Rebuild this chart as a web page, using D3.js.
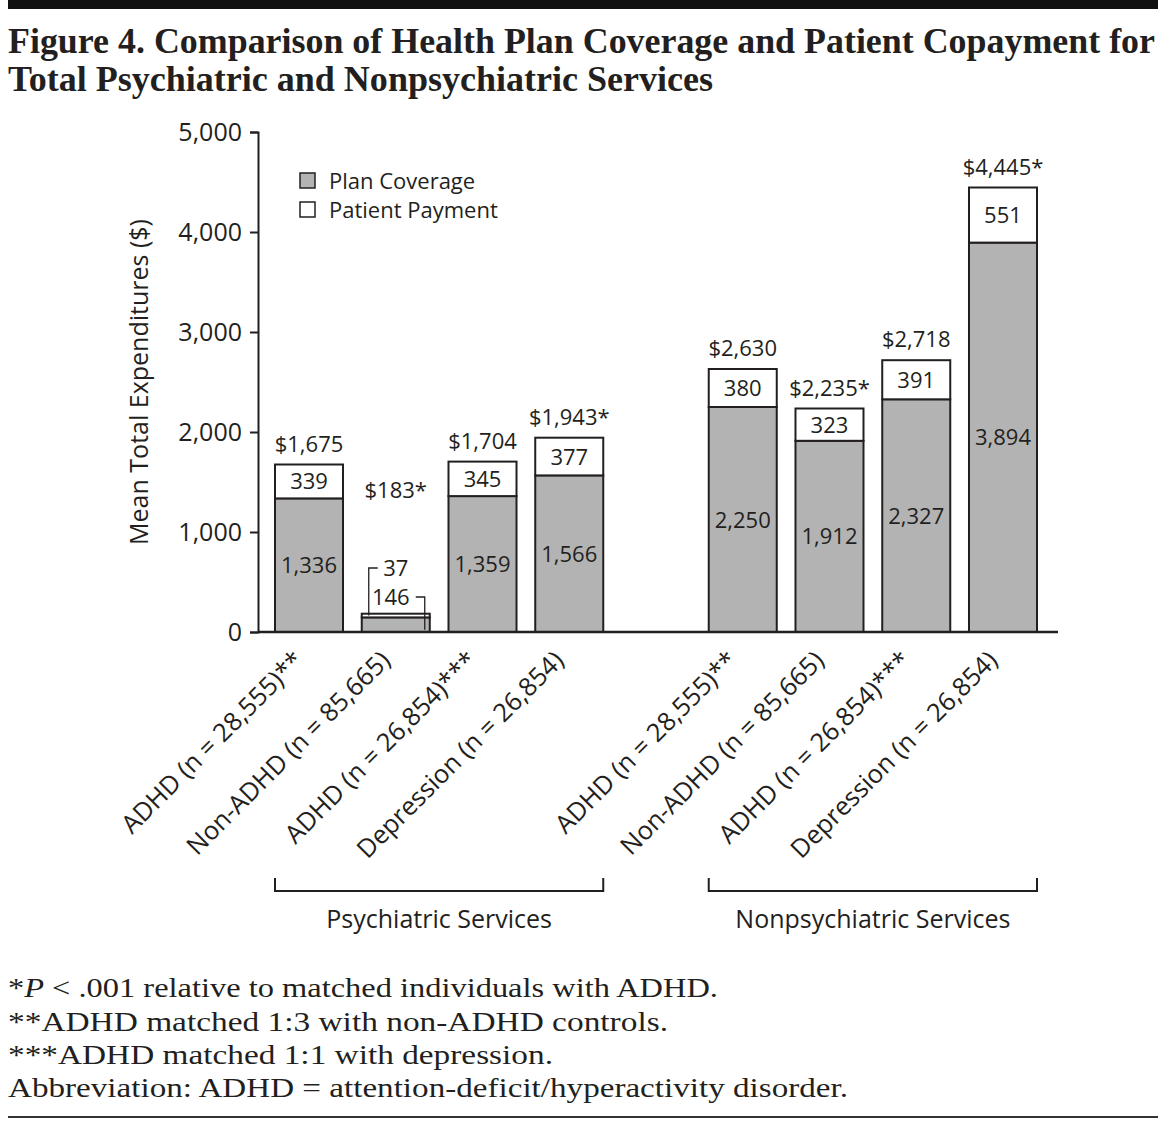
<!DOCTYPE html>
<html>
<head>
<meta charset="utf-8">
<script src="https://cdn.jsdelivr.net/npm/d3@7"></script>
<style>
  html, body { margin: 0; padding: 0; background: #fff; }
  svg { display: block; }
</style>
</head>
<body>
<svg id="chart" width="1169" height="1123"></svg>
<script>
// ---------- DATA ----------
const groups = ["Psychiatric Services", "Nonpsychiatric Services"];
const categories = [
  "ADHD (n = 28,555)**", "Non-ADHD (n = 85,665)", "ADHD (n = 26,854)***", "Depression (n = 26,854)",
  "ADHD (n = 28,555)**", "Non-ADHD (n = 85,665)", "ADHD (n = 26,854)***", "Depression (n = 26,854)"
];
const barGroup = [0, 0, 0, 0, 1, 1, 1, 1];
const planCoverage = [1336, 146, 1359, 1566, 2250, 1912, 2327, 3894];
const patientPayment = [339, 37, 345, 377, 380, 323, 391, 551];
const totalLabels = ["$1,675", "$183*", "$1,704", "$1,943*", "$2,630", "$2,235*", "$2,718", "$4,445*"];
const yTicks = [0, 1000, 2000, 3000, 4000, 5000];
const seriesNames = ["Plan Coverage", "Patient Payment"];
const titleLines = [
  "Figure 4. Comparison of Health Plan Coverage and Patient Copayment for",
  "Total Psychiatric and Nonpsychiatric Services"
];
const yAxisTitle = "Mean Total Expenditures ($)";

// ---------- SETUP ----------
const svg = d3.select("#chart");
const ink = "#231f20";
const gray = "#b3b3b3";
const sans = "'Open Sans', 'Noto Sans', sans-serif";
const serif = "'Liberation Serif', 'Times New Roman', Times, 'Noto Serif', serif";

const slotKeys = ["b0", "b1", "b2", "b3", "gap", "b4", "b5", "b6", "b7"];
const barKey = i => "b" + i;

const x = d3.scaleBand().domain(slotKeys).range([275, 1037]).paddingInner(0.216).paddingOuter(0);
const y = d3.scaleLinear().domain([0, 5000]).range([632, 132]);
const bw = x.bandwidth();

// ---------- TITLE ----------
svg.append("rect").attr("x", 8).attr("y", 0).attr("width", 1150).attr("height", 9).attr("fill", "#111");
const titleWidths = [1147, 705];
titleLines.forEach((t, i) => {
  svg.append("text")
    .attr("x", 8).attr("y", 53 + i * 38)
    .attr("font-family", serif).attr("font-weight", "bold").attr("font-size", 36)
    .attr("fill", ink)
    .attr("textLength", titleWidths[i]).attr("lengthAdjust", "spacingAndGlyphs")
    .text(t);
});

// ---------- AXES ----------
const yAxis = d3.axisLeft(y).tickValues(yTicks).tickSize(8).tickPadding(8).tickFormat(d3.format(","));
const gy = svg.append("g").attr("transform", "translate(258,0)").call(yAxis);
gy.select(".domain").attr("stroke", ink).attr("stroke-width", 2);
gy.selectAll(".tick line").attr("stroke", ink).attr("stroke-width", 2);
gy.selectAll(".tick text").attr("font-family", sans).attr("font-size", 25).attr("fill", ink);

svg.append("text")
  .attr("transform", "translate(148,382) rotate(-90)")
  .attr("text-anchor", "middle")
  .attr("font-family", sans).attr("font-size", 25).attr("fill", ink)
  .text(yAxisTitle);

// ---------- BARS ----------
const bars = svg.append("g");
categories.forEach((c, i) => {
  const x0 = x(barKey(i));
  const p = planCoverage[i], q = patientPayment[i];
  bars.append("rect")
    .attr("x", x0).attr("y", y(p)).attr("width", bw).attr("height", y(0) - y(p))
    .attr("fill", gray).attr("stroke", ink).attr("stroke-width", 2);
  bars.append("rect")
    .attr("x", x0).attr("y", y(p + q)).attr("width", bw).attr("height", y(p) - y(p + q))
    .attr("fill", "#fff").attr("stroke", ink).attr("stroke-width", 2);
});

svg.append("line").attr("x1", 258).attr("x2", 1058).attr("y1", y(0)).attr("y2", y(0))
  .attr("stroke", ink).attr("stroke-width", 2.5);

// ---------- VALUE LABELS ----------
const lab = svg.append("g").attr("font-family", sans).attr("font-size", 22).attr("fill", ink)
  .attr("text-anchor", "middle");
categories.forEach((c, i) => {
  const cx = x(barKey(i)) + bw / 2;
  const p = planCoverage[i], q = patientPayment[i];
  if (i === 1) {
    const ySeg37 = y(p + q / 2);
    const ySeg146 = y(p / 2);
    lab.append("text").attr("x", cx + 0).attr("y", 576).text(d3.format(",")(q));
    lab.append("text").attr("x", cx - 5).attr("y", 605).text(d3.format(",")(p));
    svg.append("path")
      .attr("d", `M${cx - 18},568 H${cx - 27} V${ySeg37}`)
      .attr("fill", "none").attr("stroke", ink).attr("stroke-width", 1.3);
    svg.append("path")
      .attr("d", `M${cx + 20},597 H${cx + 29} V${ySeg146 + 5}`)
      .attr("fill", "none").attr("stroke", ink).attr("stroke-width", 1.3);
    lab.append("text").attr("x", cx).attr("y", 498).text(totalLabels[i]);
  } else {
    lab.append("text").attr("x", cx).attr("y", (y(p) + y(0)) / 2 + 8).text(d3.format(",")(p));
    lab.append("text").attr("x", cx).attr("y", (y(p + q) + y(p)) / 2 + 8).text(d3.format(",")(q));
    lab.append("text").attr("x", cx).attr("y", y(p + q) - 13).text(totalLabels[i]);
  }
});

// ---------- CATEGORY LABELS ----------
categories.forEach((c, i) => {
  const cx = x(barKey(i)) + bw / 2;
  svg.append("text")
    .attr("transform", `translate(${cx - 4},${662}) rotate(-45)`)
    .attr("text-anchor", "end")
    .attr("font-family", sans).attr("font-size", 25.5).attr("fill", ink)
    .text(c);
});

// ---------- GROUP BRACKETS ----------
groups.forEach((g, gi) => {
  const idx = barGroup.map((v, i) => v === gi ? i : -1).filter(i => i >= 0);
  const xl = x(barKey(idx[0]));
  const xr = x(barKey(idx[idx.length - 1])) + bw;
  svg.append("path")
    .attr("d", `M${xl},878 V891 H${xr} V878`)
    .attr("fill", "none").attr("stroke", ink).attr("stroke-width", 2);
  svg.append("text")
    .attr("x", (xl + xr) / 2).attr("y", 928)
    .attr("text-anchor", "middle")
    .attr("font-family", sans).attr("font-size", 25).attr("fill", ink)
    .text(g);
});

// ---------- LEGEND ----------
const legColors = [gray, "#fff"];
seriesNames.forEach((s, i) => {
  svg.append("rect").attr("x", 300).attr("y", 173 + i * 29).attr("width", 15).attr("height", 15)
    .attr("fill", legColors[i]).attr("stroke", ink).attr("stroke-width", 1.5);
  svg.append("text").attr("x", 329).attr("y", 189 + i * 29)
    .attr("font-family", sans).attr("font-size", 22).attr("fill", ink).text(s);
});

// ---------- FOOTNOTES ----------
const fn = svg.append("g").attr("font-family", serif).attr("font-size", 28).attr("fill", ink);
const f1 = fn.append("text").attr("x", 8).attr("y", 997).attr("textLength", 710).attr("lengthAdjust", "spacingAndGlyphs");
f1.append("tspan").text("*");
f1.append("tspan").attr("font-style", "italic").text("P");
f1.append("tspan").text(" < .001 relative to matched individuals with ADHD.");
const notes = [
  ["**ADHD matched 1:3 with non-ADHD controls.", 660],
  ["***ADHD matched 1:1 with depression.", 545],
  ["Abbreviation: ADHD = attention-deficit/hyperactivity disorder.", 840]
];
notes.forEach((n, i) => {
  fn.append("text").attr("x", 8).attr("y", 1031 + i * 33)
    .attr("textLength", n[1]).attr("lengthAdjust", "spacingAndGlyphs").text(n[0]);
});
svg.append("rect").attr("x", 8).attr("y", 1116).attr("width", 1150).attr("height", 2).attr("fill", "#333");
</script>
</body>
</html>
